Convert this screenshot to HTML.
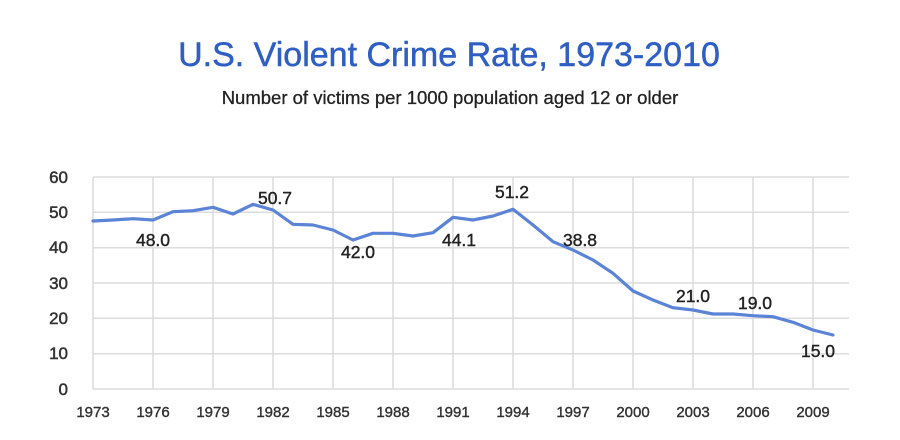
<!DOCTYPE html>
<html><head><style>
body{margin:0;background:#fff;width:900px;height:435px;overflow:hidden;font-family:"Liberation Sans",sans-serif}
</style></head><body>
<svg width="900" height="435" xmlns="http://www.w3.org/2000/svg" font-family="Liberation Sans, sans-serif">
<text x="449" y="66" text-anchor="middle" font-size="34" fill="#2f5fc4" stroke="#2f5fc4" stroke-width="0.5">U.S. Violent Crime Rate, 1973-2010</text>
<text x="450" y="104" text-anchor="middle" font-size="18.5" fill="#222" stroke="#222" stroke-width="0.3">Number of victims per 1000 population aged 12 or older</text>
<g stroke="#dcdcdc" stroke-width="1.5">
<line x1="93" y1="177" x2="849" y2="177"/><line x1="93" y1="212.3" x2="849" y2="212.3"/><line x1="93" y1="247.7" x2="849" y2="247.7"/><line x1="93" y1="283" x2="849" y2="283"/><line x1="93" y1="318.3" x2="849" y2="318.3"/><line x1="93" y1="353.7" x2="849" y2="353.7"/><line x1="93" y1="389" x2="849" y2="389"/>
<line x1="93" y1="177" x2="93" y2="389"/><line x1="153" y1="177" x2="153" y2="389"/><line x1="213" y1="177" x2="213" y2="389"/><line x1="273" y1="177" x2="273" y2="389"/><line x1="333" y1="177" x2="333" y2="389"/><line x1="393" y1="177" x2="393" y2="389"/><line x1="453" y1="177" x2="453" y2="389"/><line x1="513" y1="177" x2="513" y2="389"/><line x1="573" y1="177" x2="573" y2="389"/><line x1="633" y1="177" x2="633" y2="389"/><line x1="693" y1="177" x2="693" y2="389"/><line x1="753" y1="177" x2="753" y2="389"/><line x1="813" y1="177" x2="813" y2="389"/>
</g>
<g font-size="17" fill="#333" text-anchor="end" stroke="#333" stroke-width="0.5">
<text x="68" y="183">60</text><text x="68" y="218">50</text><text x="68" y="253">40</text><text x="68" y="289">30</text><text x="68" y="324">20</text><text x="68" y="359">10</text><text x="68" y="395">0</text>
</g>
<g font-size="15" fill="#333" text-anchor="middle" stroke="#333" stroke-width="0.4">
<text x="93" y="417">1973</text><text x="153" y="417">1976</text><text x="213" y="417">1979</text><text x="273" y="417">1982</text><text x="333" y="417">1985</text><text x="393" y="417">1988</text><text x="453" y="417">1991</text><text x="513" y="417">1994</text><text x="573" y="417">1997</text><text x="633" y="417">2000</text><text x="693" y="417">2003</text><text x="753" y="417">2006</text><text x="813" y="417">2009</text>
</g>
<polyline fill="none" stroke="#5b84d6" stroke-width="3.2" stroke-linejoin="round" stroke-linecap="round" points="93,221 113,220 133,218.7 153,220 173,211.7 193,210.7 213,207.3 233,214 253,204.3 273,210 293,224.3 313,225 333,230 353,240 373,233.3 393,233.3 413,236 433,232.7 453,217.3 473,220 493,216 513,209.3 533,225 553,241.7 573,250 593,260 613,273.3 633,291 653,300 673,307.7 693,310 713,314 733,314 753,315.7 773,316.7 793,322.3 813,330 833,335"/>
<g font-size="17.5" fill="#222" text-anchor="middle" stroke="#222" stroke-width="0.4">
<text x="153" y="246">48.0</text><text x="275" y="204">50.7</text><text x="358" y="258">42.0</text><text x="459" y="246">44.1</text><text x="512" y="198">51.2</text><text x="580" y="246">38.8</text><text x="693" y="302">21.0</text><text x="755" y="309">19.0</text><text x="818" y="357">15.0</text>
</g>
</svg>
</body></html>
